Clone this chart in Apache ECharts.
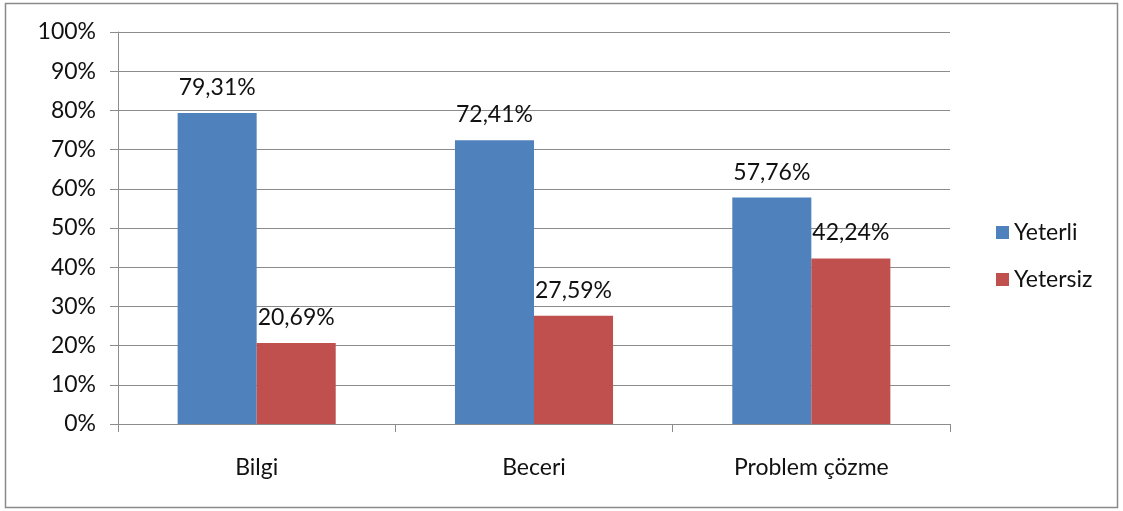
<!DOCTYPE html>
<html>
<head>
<meta charset="utf-8">
<script src="https://cdn.jsdelivr.net/npm/echarts@6/dist/echarts.min.js"></script>
<style>
  html, body { margin: 0; padding: 0; background: #fff; }
  #chart { width: 1123px; height: 511px; }
</style>
</head>
<body>
<div id="chart"></div>
<script>
// Competence levels per area (percent)
const categories = ['Bilgi', 'Beceri', 'Problem çözme'];
const seriesNames = ['Yeterli', 'Yetersiz'];
const yeterli = [79.31, 72.41, 57.76];
const yetersiz = [20.69, 27.59, 42.24];
const yTicks = [0, 10, 20, 30, 40, 50, 60, 70, 80, 90, 100];

const font = 'Lato, "Open Sans", sans-serif';
const fontSize = 23;
const textColor = '#111';
const lineColor = '#8c8c8c';

const fmt = v => v.toFixed(2).replace('.', ',') + '%';

const chart = echarts.init(document.getElementById('chart'), null, { renderer: 'canvas' });
chart.setOption({
  animation: false,
  backgroundColor: '#fff',
  textStyle: { fontFamily: font },
  graphic: [{
    type: 'rect',
    shape: { x: 5.5, y: 3.5, width: 1112, height: 504 },
    style: { fill: 'none', stroke: '#8a8a8a', lineWidth: 1.5 },
    silent: true
  }],
  grid: { left: 118, right: 173, top: 32, bottom: 87 },
  legend: {
    orient: 'vertical',
    left: 991,
    top: 216,
    itemWidth: 13,
    itemHeight: 13,
    itemGap: 24,
    itemTextGap: 7,
    icon: 'rect',
    textStyle: { fontFamily: font, fontSize: fontSize, color: textColor },
    data: seriesNames
  },
  xAxis: {
    type: 'category',
    data: categories,
    boundaryGap: true,
    axisLine: { lineStyle: { color: lineColor, width: 1 } },
    axisTick: { show: true, alignWithLabel: false, length: 8, lineStyle: { color: lineColor } },
    axisLabel: { margin: 32, fontSize: fontSize, color: textColor, fontFamily: font }
  },
  yAxis: {
    type: 'value',
    min: yTicks[0],
    max: yTicks[yTicks.length - 1],
    interval: 10,
    axisLine: { show: true, lineStyle: { color: lineColor, width: 1 } },
    axisTick: { show: true, length: 8, lineStyle: { color: lineColor } },
    splitLine: { show: true, lineStyle: { color: lineColor, width: 1 } },
    axisLabel: { margin: 22, fontSize: fontSize, color: textColor, fontFamily: font, formatter: v => v + '%' }
  },
  series: [
    {
      name: seriesNames[0],
      type: 'bar',
      data: yeterli,
      barGap: '0%',
      barCategoryGap: '43%',
      itemStyle: { color: '#4F81BD' },
      label: { show: true, position: 'top', distance: 14, fontSize: fontSize, color: textColor, fontFamily: font, formatter: p => fmt(p.value) }
    },
    {
      name: seriesNames[1],
      type: 'bar',
      data: yetersiz,
      itemStyle: { color: '#C0504D' },
      label: { show: true, position: 'top', distance: 14, fontSize: fontSize, color: textColor, fontFamily: font, formatter: p => fmt(p.value) }
    }
  ]
});
</script>
</body>
</html>
